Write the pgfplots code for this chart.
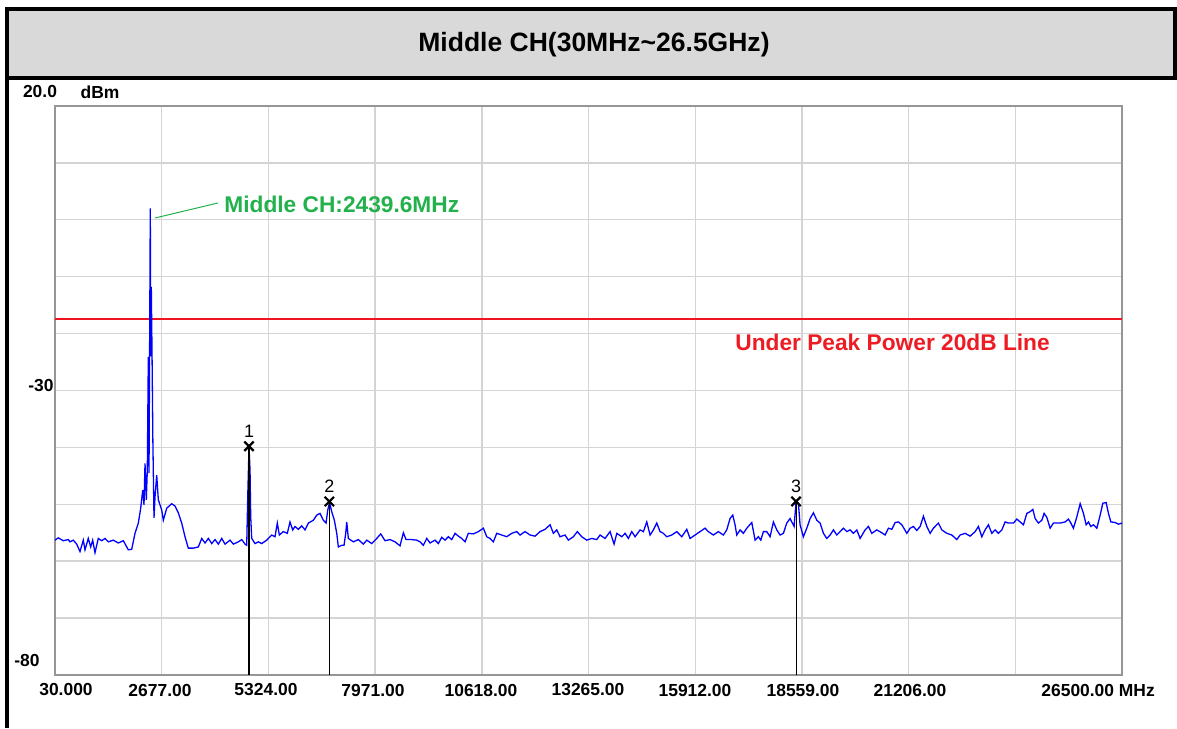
\documentclass[border=0pt]{standalone}
\usepackage{pgfplots}
\pgfplotsset{compat=1.18}
\usepackage{fontspec}
\setmainfont{Liberation Sans}
\definecolor{trace}{RGB}{0,0,255}
\definecolor{titlegray}{RGB}{217,217,217}
\definecolor{gridgray}{RGB}{212,212,212}
\definecolor{framegray}{RGB}{150,150,150}
\definecolor{mkgreen}{RGB}{34,177,76}
\definecolor{mkred}{RGB}{237,28,36}
\definecolor{linered}{RGB}{240,20,30}
\begin{document}
\begin{tikzpicture}
\begin{scope}[x=0.5bp,y=0.5bp]
\useasboundingbox (0,0) rectangle (1177,728);
\fill[white] (0,0) rectangle (1177,728);
\fill[titlegray] (9,652) rectangle (1173,717);
\draw[line width=2bp] (5,719.3) -- (1177,719.3);
\draw[line width=2bp] (7,0) -- (7,721);
\draw[line width=2bp] (7,650) -- (1177,650);
\draw[line width=2bp] (1175,648) -- (1175,721);
\node[font=\fontsize{13.3}{15}\selectfont\bfseries] at (594,683) {Middle CH(30MHz\textasciitilde 26.5GHz)};
\end{scope}
\begin{axis}[at={(27.5bp,26.5bp)}, anchor=south west, scale only axis,
  width=533.5bp, height=284.5bp,
  xmin=30, xmax=26500, ymin=-80, ymax=20,
  scaled x ticks=false, scaled y ticks=false,
  xtick={30,2677,5324,7971,10618,13265,15912,18559,21206,23853,26500},
  ytick={-80,-70,-60,-50,-40,-30,-20,-10,0,10,20},
  xticklabels={}, yticklabels={},
  major tick length=0pt,
  grid=major, major grid style={gridgray, line width=0.7bp},
  axis line style={framegray, line width=1.2bp},
  clip=false]
\addplot[color=linered, mark=none, solid, line width=0.9bp] coordinates {(30,-17.5) (26500,-17.5)};
\addplot[trace, mark=none, line width=0.65bp] coordinates {
(30,-56.3) (112,-55.9) (236,-56.4) (360,-56.2) (402,-56.6) (484,-56.3) (568,-57.0)
(650,-58.3) (732,-56.3) (774,-58.0) (856,-56.0) (916,-57.5) (965,-56.3) (1022,-58.5)
(1104,-56.0) (1189,-56.4) (1271,-56.0) (1352,-56.6) (1476,-56.3) (1600,-56.8)
(1725,-56.4) (1849,-58.0) (1933,-57.9) (2015,-55.1) (2097,-53.3) (2156,-50.7)
(2206,-47.5) (2238,-50.1) (2263,-42.8) (2295,-49.2) (2320,-44.0) (2345,-24.1)
(2362,-44.5) (2394,2.0) (2404,-24.0) (2419,-11.8) (2438,-24.1) (2458,-39.0)
(2486,-52.4) (2511,-48.7) (2553,-44.9) (2593,-49.2) (2635,-50.1) (2677,-51.0)
(2717,-52.8) (2801,-50.7) (2925,-49.9) (3007,-50.3) (3089,-51.5) (3173,-53.3)
(3255,-55.7) (3337,-57.7) (3461,-57.7) (3585,-57.5) (3670,-56.0) (3752,-56.8)
(3834,-56.0) (3918,-56.9) (4000,-56.2) (4082,-57.0) (4166,-56.0) (4248,-57.0)
(4372,-56.3) (4454,-57.0) (4578,-56.6) (4662,-56.2) (4744,-57.0) (4786,-57.2)
(4811,-48.7) (4843,-39.9) (4868,-44.0) (4885,-52.2) (4910,-56.0) (4992,-56.9)
(5074,-56.6) (5158,-56.9) (5282,-56.3) (5406,-55.4) (5488,-55.7) (5545,-53.3)
(5595,-55.4) (5694,-54.8) (5793,-55.1) (5860,-53.1) (5927,-54.5) (5984,-53.9)
(6066,-54.4) (6151,-53.8) (6233,-54.5) (6315,-53.3) (6439,-52.8) (6523,-51.9)
(6605,-51.6) (6687,-52.8) (6754,-53.3) (6796,-51.0) (6841,-49.7) (6895,-51.3)
(6960,-52.8) (7019,-55.1) (7059,-57.5) (7143,-57.2) (7200,-57.2) (7242,-55.1)
(7267,-53.1) (7307,-56.0) (7431,-56.6) (7555,-56.2) (7679,-57.0) (7763,-56.3)
(7887,-56.9) (8011,-56.0) (8110,-55.2) (8217,-56.4) (8341,-56.2) (8465,-56.6)
(8589,-57.3) (8672,-55.0) (8738,-56.2) (8880,-56.2) (9004,-56.3) (9086,-56.6)
(9168,-57.2) (9252,-56.0) (9334,-56.8) (9458,-56.3) (9540,-56.9) (9624,-55.8)
(9706,-56.3) (9788,-55.7) (9872,-56.2) (9954,-55.1) (10036,-55.6) (10120,-56.0)
(10202,-56.6) (10284,-55.1) (10408,-55.2) (10532,-54.8) (10656,-54.2) (10740,-55.7)
(10822,-56.0) (10904,-56.6) (10988,-55.1) (11112,-55.4) (11236,-55.7) (11360,-55.1)
(11484,-54.8) (11567,-55.4) (11691,-54.8) (11815,-55.4) (11939,-55.6) (12063,-54.8)
(12187,-54.4) (12311,-53.6) (12393,-55.1) (12477,-54.5) (12559,-55.7) (12683,-55.4)
(12765,-56.3) (12889,-55.7) (12988,-54.8) (13097,-55.7) (13221,-56.3) (13345,-56.0)
(13469,-56.2) (13551,-55.4) (13675,-56.0) (13799,-54.8) (13899,-57.0) (13966,-55.1)
(14090,-55.7) (14172,-55.1) (14254,-56.0) (14338,-54.8) (14420,-55.7) (14544,-54.5)
(14626,-54.8) (14710,-53.1) (14792,-55.4) (14874,-54.5) (14958,-53.3) (15040,-54.8)
(15122,-55.1) (15206,-55.7) (15330,-55.4) (15454,-54.8) (15578,-55.7) (15702,-54.4)
(15784,-56.0) (15908,-55.4) (16032,-54.8) (16156,-54.2) (16238,-54.8) (16362,-55.4)
(16486,-54.8) (16610,-55.4) (16694,-54.5) (16776,-52.5) (16843,-51.9) (16900,-53.6)
(16942,-55.4) (17025,-54.5) (17107,-55.1) (17191,-54.2) (17315,-53.2) (17397,-56.3)
(17479,-55.7) (17539,-56.3) (17603,-54.8) (17687,-54.8) (17769,-55.7) (17851,-53.1)
(17935,-54.5) (18017,-55.4) (18099,-55.1) (18183,-53.3) (18265,-52.5) (18365,-53.9)
(18414,-49.5) (18471,-49.8) (18513,-53.6) (18595,-55.7) (18680,-54.2) (18762,-52.5)
(18844,-51.5) (18928,-52.8) (19010,-53.3) (19092,-55.1) (19176,-56.0) (19258,-55.4)
(19340,-54.5) (19424,-55.4) (19506,-54.8) (19588,-54.2) (19672,-54.8) (19754,-54.5)
(19836,-55.1) (19920,-54.5) (20002,-56.0) (20126,-54.5) (20208,-53.9) (20292,-55.1)
(20416,-54.5) (20540,-55.0) (20622,-55.4) (20704,-54.2) (20789,-54.4) (20871,-53.2)
(20953,-53.1) (21037,-53.6) (21161,-55.1) (21243,-54.2) (21325,-53.9) (21409,-54.6)
(21491,-53.9) (21573,-52.1) (21657,-53.9) (21739,-55.1) (21821,-54.2) (21945,-53.3)
(22029,-54.5) (22153,-55.1) (22277,-55.4) (22401,-56.2) (22483,-55.4) (22607,-55.1)
(22731,-55.6) (22855,-54.8) (22937,-53.9) (23021,-55.7) (23103,-54.5) (23185,-53.6)
(23269,-55.1) (23351,-54.5) (23433,-55.1) (23518,-54.5) (23600,-53.1) (23682,-53.3)
(23806,-53.3) (23890,-52.6) (23972,-53.1) (24054,-53.6) (24138,-51.6) (24220,-51.3)
(24287,-50.9) (24344,-52.5) (24426,-53.3) (24510,-52.8) (24567,-51.6) (24634,-52.3)
(24716,-54.2) (24798,-53.3) (24964,-53.3) (25088,-53.1) (25170,-52.6) (25230,-53.3)
(25294,-54.2) (25379,-52.2) (25461,-49.9) (25543,-51.6) (25610,-53.6) (25667,-53.1)
(25726,-53.9) (25791,-53.6) (25875,-54.2) (25957,-51.9) (26024,-49.8) (26106,-49.7)
(26163,-51.6) (26223,-53.1) (26330,-53.2) (26412,-53.5) (26500,-53.3)
};
\addplot[black, mark=none, line width=0.55bp] coordinates {(4843,-39.8) (4843,-80)};
\addplot[black, mark=none, line width=0.55bp] coordinates {(6836,-49.5) (6836,-80)};
\addplot[black, mark=none, line width=0.55bp] coordinates {(18414,-49.5) (18414,-80)};
\addplot[black, only marks, mark=x, mark size=3.3bp, line width=1.1bp] coordinates {(4843,-39.8) (6836,-49.5) (18414,-49.5)};
\node[font=\fontsize{9}{10}\selectfont] at (axis cs:4843,-39.8) [yshift=7.5bp] {1};
\node[font=\fontsize{9}{10}\selectfont] at (axis cs:6836,-49.5) [yshift=7.5bp] {2};
\node[font=\fontsize{9}{10}\selectfont] at (axis cs:18414,-49.5) [yshift=7.5bp] {3};
\end{axis}
\begin{scope}[x=0.5bp,y=0.5bp]
\draw[mkgreen, line width=0.5bp] (155,510) -- (218,525);
\node[anchor=west, inner sep=0pt, text=mkgreen, font=\fontsize{11.4}{13}\selectfont\bfseries] at (224,524) {Middle CH:2439.6MHz};
\node[anchor=west, inner sep=0pt, text=mkred, font=\fontsize{11.4}{13}\selectfont\bfseries] at (735,386) {Under Peak Power 20dB Line};
\begin{scope}[every node/.style={font=\fontsize{8.75}{10}\selectfont\bfseries, inner sep=0pt}]
\node at (66,38) {30.000};
\node at (160,38) {2677.00};
\node at (266,38) {5324.00};
\node at (373,38) {7971.00};
\node at (481,38) {10618.00};
\node at (588,38) {13265.00};
\node at (695,38) {15912.00};
\node at (803,38) {18559.00};
\node at (910,38) {21206.00};
\node[anchor=west] at (1041,38) {26500.00 MHz};
\node at (40,636) {20.0};
\node at (100,636) {dBm};
\node[anchor=east] at (54,342) {-30};
\node at (27,68) {-80};
\end{scope}
\end{scope}
\end{tikzpicture}
\end{document}
